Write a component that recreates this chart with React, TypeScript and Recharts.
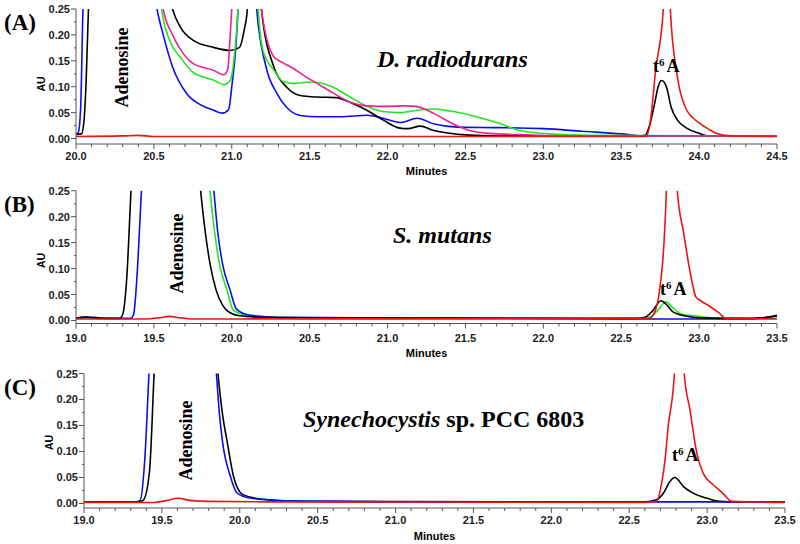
import { LineChart, Line, XAxis, YAxis } from 'recharts';

type Pt = [number, number];

// x axis labels (minutes), major ticks; minor ticks are added between them
const dradTicks = [20.0, 20.5, 21.0, 21.5, 22.0, 22.5, 23.0, 23.5, 24.0, 24.5];
const smutTicks = [19.0, 19.5, 20.0, 20.5, 21.0, 21.5, 22.0, 22.5, 23.0, 23.5];
const synTicks = [19.0, 19.5, 20.0, 20.5, 21.0, 21.5, 22.0, 22.5, 23.0, 23.5];
const auTicks = [0, 0.05, 0.1, 0.15, 0.2, 0.25];

// (A) D. radiodurans  [minutes, AU]
const dradBlue: Pt[] = [
  [20.0, 0.008], [20.015, 0.012], [20.03, 0.06], [20.045, 0.25], [20.28, 1.2], [20.52, 0.25],
  [20.56, 0.2], [20.62, 0.138], [20.71, 0.087], [20.8, 0.065], [20.88, 0.055], [20.94, 0.049],
  [20.98, 0.056], [21.0, 0.1], [21.04, 0.25], [21.1, 1.0], [21.16, 0.25], [21.22, 0.138],
  [21.29, 0.087], [21.37, 0.055], [21.45, 0.044], [21.55, 0.042], [21.7, 0.042], [21.87, 0.045],
  [21.97, 0.039], [22.08, 0.031], [22.19, 0.039], [22.3, 0.028], [22.45, 0.022], [22.7, 0.021],
  [23.0, 0.019], [23.25, 0.014], [23.5, 0.009], [23.65, 0.005], [24.0, 0.005], [24.5, 0.005],
];
const dradBlack: Pt[] = [
  [20.0, 0.008], [20.035, 0.009], [20.05, 0.03], [20.065, 0.11], [20.08, 0.25], [20.35, 1.2],
  [20.62, 0.25], [20.67, 0.215], [20.75, 0.19], [20.88, 0.176], [20.99, 0.17], [21.05, 0.176],
  [21.08, 0.21], [21.1, 0.25], [21.15, 0.8], [21.19, 0.25], [21.27, 0.138], [21.35, 0.1],
  [21.44, 0.083], [21.55, 0.08], [21.67, 0.079], [21.78, 0.067], [21.87, 0.054], [21.97, 0.036],
  [22.08, 0.02], [22.13, 0.019], [22.21, 0.024], [22.29, 0.016], [22.4, 0.01], [22.5, 0.007],
  [22.7, 0.005], [23.62, 0.005], [23.655, 0.007], [23.68, 0.023], [23.71, 0.061], [23.74, 0.103],
  [23.76, 0.112], [23.79, 0.1], [23.82, 0.061], [23.86, 0.036], [23.92, 0.02], [24.0, 0.01],
  [24.06, 0.005], [24.5, 0.005],
];
const dradGreen: Pt[] = [
  [20.45, 0.9], [20.55, 0.25], [20.6, 0.19], [20.67, 0.157], [20.75, 0.128], [20.88, 0.113],
  [20.95, 0.104], [20.99, 0.112], [21.02, 0.17], [21.04, 0.25], [21.1, 1.0], [21.17, 0.25],
  [21.2, 0.17], [21.27, 0.132], [21.33, 0.11], [21.4, 0.106], [21.5, 0.109], [21.57, 0.107],
  [21.65, 0.099], [21.76, 0.08], [21.87, 0.062], [21.97, 0.052], [22.08, 0.05], [22.2, 0.055],
  [22.3, 0.057], [22.4, 0.053], [22.51, 0.047], [22.62, 0.038], [22.72, 0.029], [22.83, 0.017],
  [22.95, 0.011], [23.1, 0.008], [23.4, 0.006], [24.5, 0.005],
];
const dradPink: Pt[] = [
  [20.45, 0.9], [20.56, 0.25], [20.62, 0.2], [20.67, 0.172], [20.75, 0.145], [20.88, 0.132],
  [20.95, 0.123], [20.975, 0.135], [20.99, 0.2], [21.0, 0.25], [21.1, 1.0], [21.19, 0.25],
  [21.27, 0.158], [21.33, 0.146], [21.39, 0.136], [21.47, 0.12], [21.55, 0.106], [21.65, 0.088],
  [21.76, 0.07], [21.87, 0.063], [22.0, 0.062], [22.1, 0.063], [22.18, 0.062], [22.3, 0.048],
  [22.41, 0.03], [22.51, 0.017], [22.65, 0.01], [22.9, 0.007], [23.2, 0.005], [24.5, 0.005],
];
const dradRed: Pt[] = [
  [20.0, 0.004], [20.3, 0.005], [20.4, 0.006], [20.5, 0.004], [21.0, 0.004], [23.66, 0.004],
  [23.69, 0.04], [23.72, 0.13], [23.77, 0.25], [23.795, 0.8], [23.815, 0.25], [23.86, 0.12],
  [23.92, 0.055], [23.96, 0.04], [24.0, 0.03], [24.06, 0.018], [24.11, 0.01], [24.2, 0.005],
  [24.5, 0.004],
];

// (B) S. mutans
const smutBlack: Pt[] = [
  [19.0, 0.004], [19.05, 0.006], [19.1, 0.005], [19.2, 0.004], [19.28, 0.004], [19.3, 0.012],
  [19.325, 0.078], [19.353, 0.25], [19.58, 1.5], [19.8, 0.25], [19.83, 0.17], [19.86, 0.11],
  [19.9, 0.058], [19.94, 0.03], [19.97, 0.019], [20.05, 0.009], [20.2, 0.006], [20.5, 0.004],
  [22.6, 0.004], [22.65, 0.006], [22.7, 0.018], [22.755, 0.038], [22.79, 0.031], [22.83, 0.017],
  [22.92, 0.008], [23.0, 0.005], [23.3, 0.004], [23.4, 0.005], [23.5, 0.009],
];
const smutBlue: Pt[] = [
  [19.0, 0.004], [19.07, 0.007], [19.12, 0.006], [19.2, 0.004], [19.35, 0.004], [19.37, 0.012],
  [19.39, 0.078], [19.42, 0.25], [19.65, 1.5], [19.885, 0.25], [19.91, 0.17], [19.94, 0.11],
  [19.99, 0.058], [20.03, 0.022], [20.12, 0.01], [20.3, 0.006], [20.8, 0.005], [21.35, 0.005],
  [22.5, 0.003], [23.35, 0.003], [23.45, 0.007], [23.5, 0.01],
];
const smutGreen: Pt[] = [
  [19.65, 1.5], [19.86, 0.25], [19.89, 0.17], [19.92, 0.11], [19.97, 0.058], [20.01, 0.02],
  [20.1, 0.01], [20.3, 0.006], [21.0, 0.004], [22.6, 0.004], [22.68, 0.006], [22.73, 0.018],
  [22.787, 0.036], [22.83, 0.025], [22.88, 0.013], [23.0, 0.008], [23.1, 0.005], [23.5, 0.004],
];
const smutRed: Pt[] = [
  [19.0, 0.003], [19.45, 0.003], [19.53, 0.005], [19.6, 0.008], [19.67, 0.005], [19.75, 0.003],
  [22.68, 0.004], [22.72, 0.02], [22.74, 0.045], [22.79, 0.25], [22.825, 0.9], [22.86, 0.25],
  [22.9, 0.17], [22.94, 0.097], [22.98, 0.045], [23.0, 0.04], [23.07, 0.027], [23.13, 0.014],
  [23.17, 0.004], [23.5, 0.003],
];

// (C) Synechocystis sp. PCC 6803
const synBlue: Pt[] = [
  [19.0, 0.003], [19.33, 0.003], [19.36, 0.006], [19.39, 0.084], [19.417, 0.25], [19.63, 1.5],
  [19.85, 0.25], [19.87, 0.17], [19.89, 0.117], [19.94, 0.052], [19.98, 0.021], [20.03, 0.013],
  [20.1, 0.009], [20.3, 0.005], [20.6, 0.004], [21.0, 0.003], [23.5, 0.003],
];
const synBlack: Pt[] = [
  [19.0, 0.003], [19.35, 0.003], [19.38, 0.006], [19.42, 0.06], [19.45, 0.25], [19.66, 1.5],
  [19.86, 0.25], [19.89, 0.17], [19.92, 0.117], [19.96, 0.052], [20.02, 0.017], [20.15, 0.008],
  [20.4, 0.004], [22.6, 0.003], [22.675, 0.007], [22.72, 0.02], [22.76, 0.042], [22.793, 0.05],
  [22.85, 0.032], [22.91, 0.02], [23.0, 0.01], [23.08, 0.004], [23.2, 0.003], [23.5, 0.003],
];
const synRed: Pt[] = [
  [19.0, 0.002], [19.45, 0.002], [19.52, 0.005], [19.605, 0.01], [19.68, 0.006], [19.8, 0.004],
  [20.2, 0.003], [22.6, 0.002], [22.675, 0.004], [22.708, 0.039], [22.73, 0.084], [22.75, 0.148],
  [22.79, 0.25], [22.82, 0.9], [22.853, 0.25], [22.89, 0.18], [22.93, 0.103], [22.975, 0.058],
  [23.04, 0.036], [23.1, 0.02], [23.16, 0.004], [23.5, 0.002],
];

const BLACK = '#000000';
const BLUE = '#0c0cf0';
const GREEN = '#22e622';
const PINK = '#f0208c';
const RED = '#ee1414';

const serif = '"Liberation Serif", "Times New Roman", serif';
const sans = '"Liberation Sans", Arial, sans-serif';

const rows = (pts: Pt[]) => pts.map(([t, v]) => ({ t, v }));

function withMinor(majors: number[], parts: number) {
  const out: number[] = [];
  majors.forEach((m, i) => {
    out.push(m);
    if (i < majors.length - 1) {
      const step = (majors[i + 1] - m) / parts;
      for (let k = 1; k < parts; k++) out.push(Number((m + step * k).toFixed(4)));
    }
  });
  return out;
}

function isMajor(v: number, majors: number[]) {
  return majors.some((m) => Math.abs(m - v) < 1e-6);
}

function XTick(props: any) {
  const { x, y, payload, majors, labelDy } = props;
  const major = isMajor(payload.value, majors);
  return (
    <g>
      <line x1={x} x2={x} y1={y} y2={y + (major ? 5 : 3)} stroke="#555" strokeWidth={1} />
      {major && (
        <text x={x} y={y + labelDy} textAnchor="middle" fontFamily={sans} fontWeight="bold" fontSize={11} fill="#222">
          {payload.value.toFixed(1)}
        </text>
      )}
    </g>
  );
}

function YTick(props: any) {
  const { x, y, payload } = props;
  const major = isMajor(payload.value, auTicks);
  return (
    <g>
      <line x1={x} x2={x - (major ? 5 : 2)} y1={y} y2={y} stroke="#555" strokeWidth={1} />
      {major && (
        <text x={x - 6} y={y + 4} textAnchor="end" fontFamily={sans} fontWeight="bold" fontSize={11} fill="#222">
          {payload.value.toFixed(2)}
        </text>
      )}
    </g>
  );
}

type Series = { name: string; data: Pt[]; color: string };

function Panel(p: {
  top: number; height: number; marginTop: number; xAxisH: number; left: number; right: number;
  xTicks: number[]; yMin: number; labelDy: number; series: Series[];
}) {
  const xDomain = [p.xTicks[0], p.xTicks[p.xTicks.length - 1]];
  return (
    <div style={{ position: 'absolute', left: 0, top: p.top }}>
      <LineChart width={800} height={p.height} margin={{ top: p.marginTop, right: p.right, bottom: 0, left: 0 }}>
        <XAxis
          dataKey="t" type="number" domain={xDomain} allowDataOverflow
          ticks={withMinor(p.xTicks, 5)} interval={0} height={p.xAxisH}
          tickSize={0} tickMargin={0} tickLine={false}
          axisLine={{ stroke: '#555' }}
          tick={(tp: any) => <XTick {...tp} majors={p.xTicks} labelDy={p.labelDy} />}
        />
        <XAxis xAxisId="top" orientation="top" type="number" domain={xDomain} height={0} tick={false} tickLine={false} axisLine={{ stroke: '#999' }} />
        <YAxis
          type="number" domain={[p.yMin, 0.25]} allowDataOverflow
          ticks={withMinor(auTicks, 2)} interval={0} width={p.left}
          tickSize={0} tickMargin={0} tickLine={false}
          axisLine={{ stroke: '#555' }}
          tick={(tp: any) => <YTick {...tp} />}
        />
        <YAxis yAxisId="right" orientation="right" type="number" domain={[p.yMin, 0.25]} width={0} tick={false} tickLine={false} axisLine={{ stroke: '#999' }} />
        {p.series.map((s) => (
          <Line
            key={s.name} name={s.name} data={rows(s.data)} dataKey="v" type="monotone"
            stroke={s.color} strokeWidth={1.6} dot={false} activeDot={false} isAnimationActive={false}
          />
        ))}
      </LineChart>
    </div>
  );
}

function T6A({ x, y }: { x: number; y: number }) {
  return (
    <text x={x} y={y} fontFamily={serif} fontWeight="bold" fontSize={18} fill="#000">
      t<tspan fontSize={11} dy={-6}>6</tspan><tspan dy={6} dx={2}>A</tspan>
    </text>
  );
}

function Rot({ x, y, children, size, family, weight }: any) {
  return (
    <text x={x} y={y} transform={`rotate(-90 ${x} ${y})`} textAnchor="middle" fontFamily={family} fontWeight={weight} fontSize={size} fill="#000">
      {children}
    </text>
  );
}

export default function App() {
  return (
    <div style={{ position: 'absolute', left: 0, top: 0, width: 800, height: 544, background: '#fff' }}>
      <Panel
        top={0} height={180} marginTop={9} xAxisH={36} left={76} right={23}
        xTicks={dradTicks} yMin={-0.0106} labelDy={15.5}
        series={[
          { name: 'blue', data: dradBlue, color: BLUE },
          { name: 'black', data: dradBlack, color: BLACK },
          { name: 'green', data: dradGreen, color: GREEN },
          { name: 'pink', data: dradPink, color: PINK },
          { name: 'red', data: dradRed, color: RED },
        ]}
      />
      <Panel
        top={180} height={180} marginTop={10.7} xAxisH={36.5} left={76} right={23}
        xTicks={smutTicks} yMin={-0.0058} labelDy={18}
        series={[
          { name: 'green', data: smutGreen, color: GREEN },
          { name: 'blue', data: smutBlue, color: BLUE },
          { name: 'black', data: smutBlack, color: BLACK },
          { name: 'red', data: smutRed, color: RED },
        ]}
      />
      <Panel
        top={360} height={184} marginTop={13.5} xAxisH={36} left={84} right={15}
        xTicks={synTicks} yMin={-0.0087} labelDy={15.5}
        series={[
          { name: 'black', data: synBlack, color: BLACK },
          { name: 'blue', data: synBlue, color: BLUE },
          { name: 'red', data: synRed, color: RED },
        ]}
      />
      <svg width={800} height={544} style={{ position: 'absolute', left: 0, top: 0, pointerEvents: 'none' }}>
        {/* panel letters */}
        <text x={4} y={30} fontFamily={serif} fontWeight="bold" fontSize={23}>(A)</text>
        <text x={4} y={212} fontFamily={serif} fontWeight="bold" fontSize={23}>(B)</text>
        <text x={4} y={395} fontFamily={serif} fontWeight="bold" fontSize={23}>(C)</text>

        {/* axis titles */}
        <Rot x={45} y={84} size={10.5} family={sans} weight="bold">AU</Rot>
        <Rot x={45} y={260.5} size={10.5} family={sans} weight="bold">AU</Rot>
        <Rot x={52.5} y={442.5} size={10.5} family={sans} weight="bold">AU</Rot>
        <text x={426.5} y={174.5} textAnchor="middle" fontFamily={sans} fontWeight="bold" fontSize={11}>Minutes</text>
        <text x={426.5} y={356.5} textAnchor="middle" fontFamily={sans} fontWeight="bold" fontSize={11}>Minutes</text>
        <text x={434.5} y={540} textAnchor="middle" fontFamily={sans} fontWeight="bold" fontSize={11}>Minutes</text>

        {/* organism titles */}
        <text x={377} y={67} fontFamily={serif} fontWeight="bold" fontStyle="italic" fontSize={24}>D. radiodurans</text>
        <text x={393} y={243} fontFamily={serif} fontWeight="bold" fontStyle="italic" fontSize={24}>S. mutans</text>
        <text x={303} y={427} fontFamily={serif} fontWeight="bold" fontSize={24}>
          <tspan fontStyle="italic">Synechocystis</tspan> sp. PCC 6803
        </text>

        {/* peak labels */}
        <Rot x={128} y={67.5} size={18} family={serif} weight="bold">Adenosine</Rot>
        <Rot x={183} y={253.5} size={18} family={serif} weight="bold">Adenosine</Rot>
        <Rot x={192} y={440.5} size={18} family={serif} weight="bold">Adenosine</Rot>
        <T6A x={653} y={71.7} />
        <T6A x={660} y={295} />
        <T6A x={672} y={461} />
      </svg>
    </div>
  );
}
